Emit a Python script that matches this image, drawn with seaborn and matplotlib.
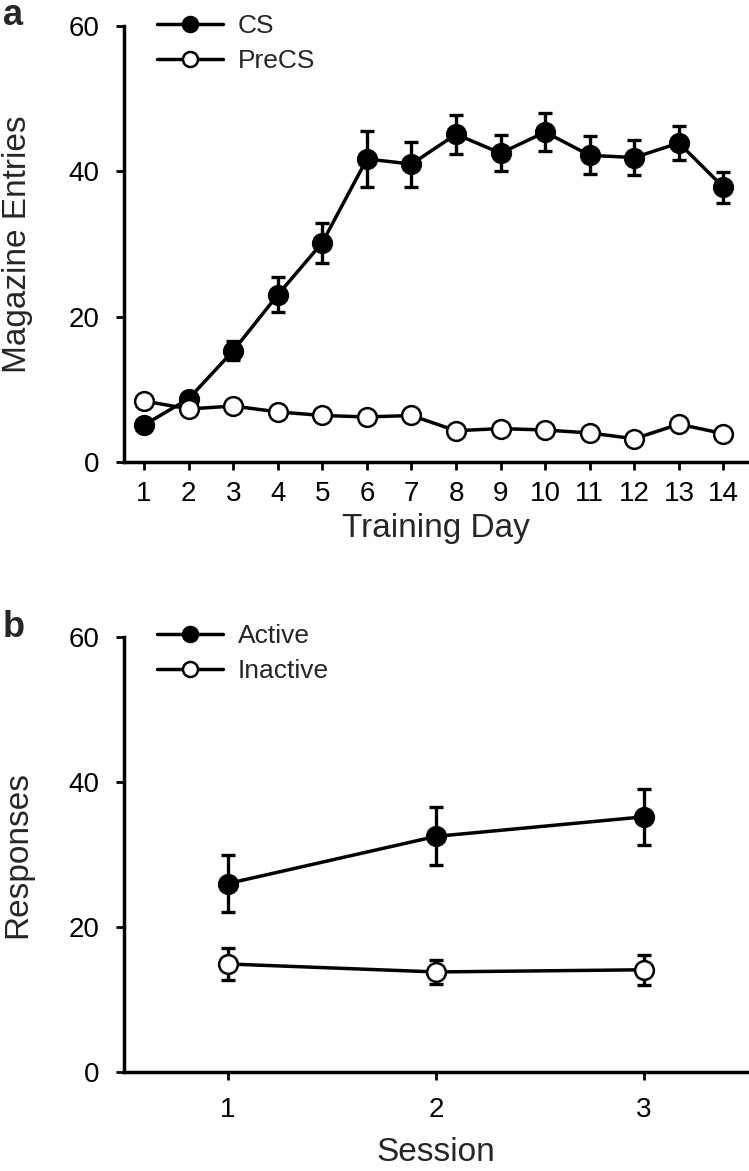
"Two-panel magazine entries / lever responses figure."
import matplotlib
matplotlib.use("Agg")
import matplotlib.pyplot as plt
import seaborn as sns

# panel a: Pavlovian training
days = list(range(1, 15))
cs_mean = [5.1, 8.7, 15.3, 23.0, 30.2, 41.7, 41.0, 45.1, 42.5, 45.4, 42.2, 41.9, 43.9, 37.8]
cs_sem = [0.7, 0.8, 1.3, 2.4, 2.75, 3.8, 3.1, 2.7, 2.5, 2.6, 2.6, 2.4, 2.4, 2.1]
precs_mean = [8.4, 7.3, 7.7, 6.9, 6.4, 6.2, 6.4, 4.3, 4.6, 4.4, 4.0, 3.2, 5.2, 3.9]
precs_sem = [0.5, 0.5, 0.5, 0.5, 0.5, 0.5, 0.5, 0.4, 0.4, 0.4, 0.4, 0.4, 0.5, 0.4]

# panel b: instrumental sessions
sessions = [1, 2, 3]
active_mean = [26.0, 32.5, 35.2]
active_sem = [3.95, 4.0, 3.9]
inactive_mean = [14.9, 13.8, 14.1]
inactive_sem = [2.2, 1.6, 2.1]

W, H = 749, 1171


def _series(ax, x, y, err, label, face):
    "Line with circle markers plus SEM error bars behind the markers."
    ax.errorbar(x, y, yerr=err, fmt='none', ecolor='black', elinewidth=2.4,
                capsize=4.8, capthick=2.4, zorder=2)
    sns.lineplot(x=x, y=y, ax=ax, color='black', lw=2.5, marker='o', markersize=13.5,
                 markerfacecolor=face, markeredgecolor='black', markeredgewidth=1.8,
                 label=label, zorder=3)


def _style(ax, xlim, xticks, xlabel, ylabel, xpad, xlab_y):
    ax.set_xlim(*xlim)
    ax.set_ylim(0, 60)
    ax.set_xticks(xticks)
    ax.set_yticks([0, 20, 40, 60])
    ax.tick_params(axis='both', direction='out', length=6, width=2, labelsize=20, colors='black')
    ax.tick_params(axis='y', pad=11.5)
    ax.tick_params(axis='x', pad=xpad)
    for s in ['left', 'bottom']:
        ax.spines[s].set_linewidth(2.5)
        ax.spines[s].set_color('black')
    sns.despine(ax=ax, top=True, right=True)
    ax.set_xlabel(xlabel, fontsize=24)
    ax.set_ylabel(ylabel, fontsize=24)
    ax.yaxis.set_label_coords(-0.146, 0.5)
    ax.xaxis.set_label_coords(0.5, xlab_y)
    ax.grid(False)


def _legend(fig, ax, top_px):
    ax.legend(loc='upper left', bbox_to_anchor=(157 / W, 1 - top_px / H), bbox_transform=fig.transFigure,
              frameon=False, fontsize=19, handlelength=2.5, handletextpad=0.55, labelspacing=0.42,
              borderpad=0, borderaxespad=0, markerscale=0.8)


sns.set_theme(style='ticks')
plt.rcParams['font.family'] = ['Liberation Sans', 'DejaVu Sans']

fig = plt.figure(figsize=(W / 100, H / 100), dpi=100)
ax_a = fig.add_axes([124 / W, 1 - 462 / H, 624 / W, 436 / H])
ax_b = fig.add_axes([124 / W, 1 - 1072 / H, 624 / W, 435 / H])

_series(ax_a, days, cs_mean, cs_sem, 'CS', 'black')
_series(ax_a, days, precs_mean, precs_sem, 'PreCS', 'white')
_style(ax_a, (0.55, 14.55), days, 'Training Day', 'Magazine Entries', 8, -0.118)
_legend(fig, ax_a, 14)

_series(ax_b, sessions, active_mean, active_sem, 'Active', 'black')
_series(ax_b, sessions, inactive_mean, inactive_sem, 'Inactive', 'white')
_style(ax_b, (0.5, 3.5), sessions, 'Session', 'Responses', 12, -0.15)
_legend(fig, ax_b, 624)

fig.text(3 / W, 1 - 25 / H, 'a', fontsize=26, fontweight='bold', va='baseline', ha='left')
fig.text(3 / W, 1 - 637 / H, 'b', fontsize=26, fontweight='bold', va='baseline', ha='left')

fig.savefig('out.png', dpi=100)
